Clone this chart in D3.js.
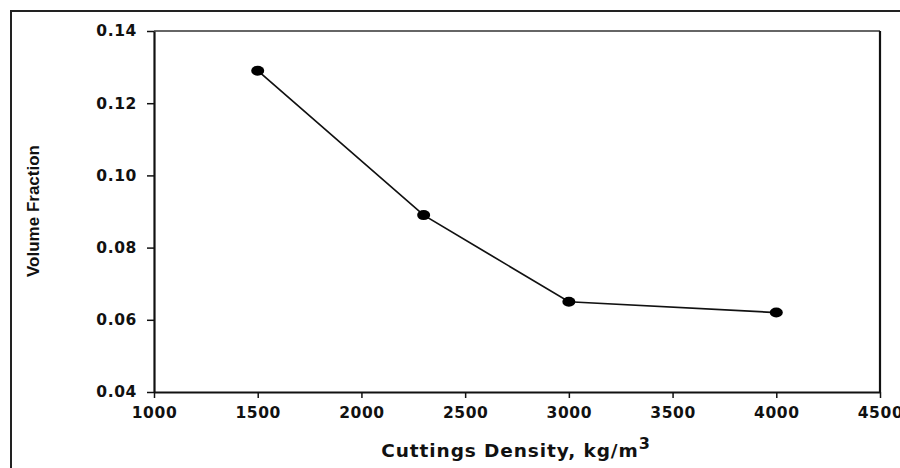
<!DOCTYPE html>
<html>
<head>
<meta charset="utf-8">
<script src="https://cdn.jsdelivr.net/npm/d3@7"></script>
<style>
  html, body { margin: 0; padding: 0; background: #fff; }
  svg { display: block; }
</style>
</head>
<body>
<svg id="chart" width="900" height="468"></svg>
<script>
// Volume fraction of cuttings against cuttings density
const densities = [1500, 2300, 3000, 4000];
const volumeFractions = [0.129, 0.089, 0.065, 0.062];
const xTicks = [1000, 1500, 2000, 2500, 3000, 3500, 4000, 4500];
const yTicks = [0.04, 0.06, 0.08, 0.10, 0.12, 0.14];

const svg = d3.select("#chart");
const W = 900, H = 468;
const plot = { left: 154, right: 880, top: 31, bottom: 392 };

// outer frame, running past the right and bottom edges
svg.append("rect")
  .attr("x", 11).attr("y", 11)
  .attr("width", W).attr("height", H)
  .attr("fill", "none").attr("stroke", "#222").attr("stroke-width", 2);

const x = d3.scaleLinear().domain([1000, 4500]).range([plot.left, plot.right]);
const y = d3.scaleLinear().domain([0.04, 0.14]).range([plot.bottom, plot.top]);

const tickFont = "'DejaVu Sans', Verdana, sans-serif";

// plot box: top and right sides
svg.append("line")
  .attr("x1", plot.left).attr("x2", plot.right)
  .attr("y1", plot.top).attr("y2", plot.top)
  .attr("stroke", "#333").attr("stroke-width", 1.5);
svg.append("line")
  .attr("x1", plot.right).attr("x2", plot.right)
  .attr("y1", plot.top).attr("y2", plot.bottom)
  .attr("stroke", "#111").attr("stroke-width", 2.2);

function styleTicks(g) {
  g.select(".domain").attr("stroke", "#111").attr("stroke-width", 2.2);
  g.selectAll(".tick line").attr("stroke", "#111").attr("stroke-width", 1.5);
  g.selectAll(".tick text")
    .attr("font-family", tickFont).attr("font-weight", "bold")
    .attr("font-size", 15.5).attr("letter-spacing", 0.6).attr("fill", "#111");
}

// x axis
const xAxis = svg.append("g")
  .attr("transform", `translate(0,${plot.bottom})`)
  .call(d3.axisBottom(x).tickValues(xTicks).tickFormat(d3.format("d"))
    .tickSize(6).tickSizeOuter(0).tickPadding(9));
styleTicks(xAxis);

// y axis
const yAxis = svg.append("g")
  .attr("transform", `translate(${plot.left},0)`)
  .call(d3.axisLeft(y).tickValues(yTicks).tickFormat(d3.format(".2f"))
    .tickSize(7).tickSizeOuter(0).tickPadding(10));
styleTicks(yAxis);

// data line and markers
const pts = densities.map((d, i) => [d, volumeFractions[i]]);
svg.append("path")
  .datum(pts)
  .attr("fill", "none").attr("stroke", "#111").attr("stroke-width", 1.7)
  .attr("d", d3.line().x(d => x(d[0])).y(d => y(d[1])));
svg.selectAll("ellipse.pt")
  .data(pts).join("ellipse")
  .attr("class", "pt")
  .attr("cx", d => x(d[0])).attr("cy", d => y(d[1]))
  .attr("rx", 6.5).attr("ry", 5)
  .attr("fill", "#000");

// axis titles
const xt = svg.append("text")
  .attr("x", 516).attr("y", 457)
  .attr("text-anchor", "middle")
  .attr("font-family", tickFont).attr("font-weight", "bold")
  .attr("font-size", 18.5).attr("letter-spacing", 0.9).attr("fill", "#111");
xt.append("tspan").text("Cuttings Density, kg/m");
xt.append("tspan").attr("dy", -8).attr("font-size", 16).text("3");

svg.append("text")
  .attr("transform", "translate(39,211) rotate(-90)")
  .attr("text-anchor", "middle")
  .attr("font-family", "'Liberation Sans Narrow', 'Arial Narrow', 'Liberation Sans', Arial, sans-serif")
  .attr("font-size", 17).attr("font-weight", 600).attr("fill", "#111")
  .attr("textLength", 132).attr("lengthAdjust", "spacingAndGlyphs")
  .text("Volume Fraction");
</script>
</body>
</html>
